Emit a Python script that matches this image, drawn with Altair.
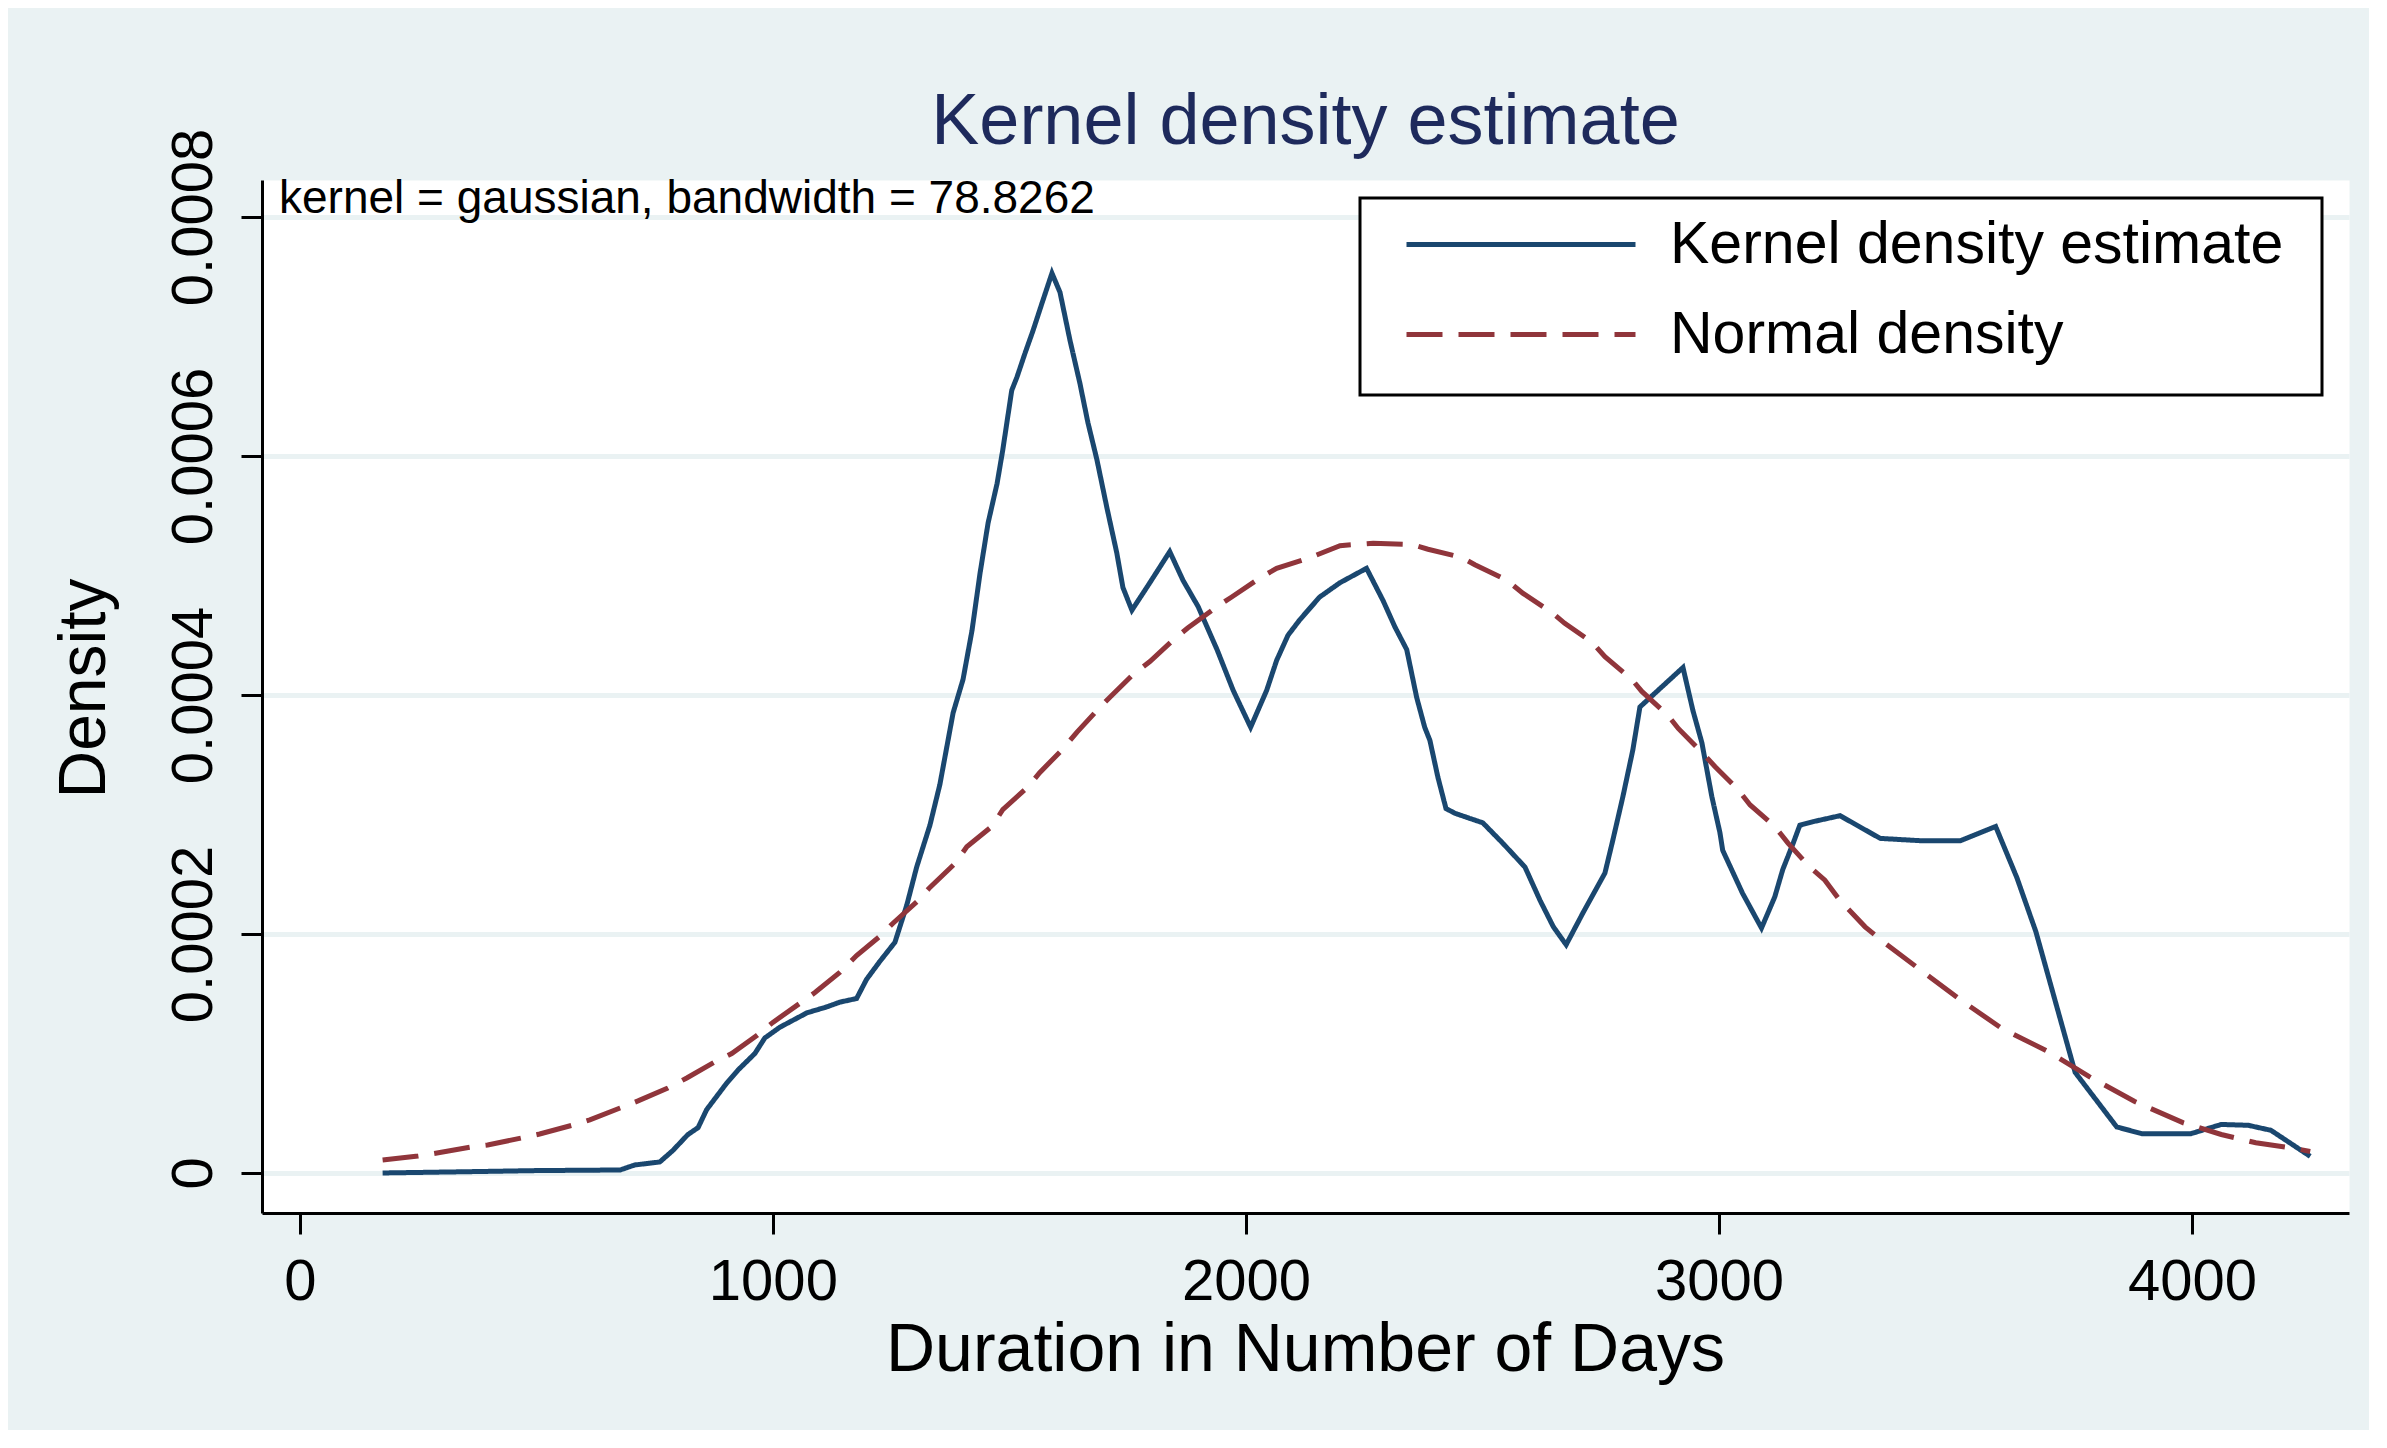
import altair as alt
import pandas as pd

# ---- data ----
kde_x = [175, 345, 500, 677, 708, 761, 789, 820, 842, 860, 902, 926, 962, 983, 1015,
         1072, 1114, 1142, 1177, 1198, 1226, 1258, 1283, 1304, 1332, 1353, 1381, 1402,
         1421, 1438, 1455, 1474, 1486, 1505, 1516, 1533, 1550, 1569, 1590, 1607, 1628,
         1649, 1666, 1685, 1706, 1727, 1740, 1759, 1797, 1839, 1867, 1899, 1939, 1973,
         2010, 2044, 2065, 2089, 2114, 2156, 2199, 2255, 2290, 2315, 2340, 2361, 2378,
         2389, 2406, 2423, 2442, 2501, 2543, 2590, 2622, 2650, 2677, 2713, 2759, 2776,
         2797, 2818, 2833, 2924, 2945, 2964, 2985, 3002, 3008, 3050, 3090, 3118, 3135,
         3157, 3171, 3199, 3256, 3341, 3429, 3510, 3585, 3630, 3670, 3753, 3841, 3894,
         3998, 4062, 4119, 4167, 4250]
kde_y = [0.0, 0.000001, 0.000002, 0.0000025, 0.0000067, 0.0000092, 0.000019, 0.000032,
         0.000038, 0.000053, 0.000075, 0.000086, 0.000100, 0.000113, 0.000122, 0.000134,
         0.000139, 0.000143, 0.000146, 0.000162, 0.000177, 0.000193, 0.000224, 0.000256,
         0.000291, 0.000325, 0.000385, 0.000413, 0.000454, 0.000502, 0.000544, 0.000577,
         0.000605, 0.000655, 0.000666, 0.000686, 0.000705, 0.000728, 0.000753, 0.000737,
         0.000697, 0.000661, 0.000628, 0.000597, 0.000557, 0.000519, 0.000490, 0.000471,
         0.000494, 0.000520, 0.000496, 0.000474, 0.000438, 0.000404, 0.000373, 0.000404,
         0.000429, 0.000450, 0.000463, 0.000482, 0.000494, 0.000506, 0.000479, 0.000457,
         0.000438, 0.000398, 0.000373, 0.000362, 0.000331, 0.000305, 0.000301, 0.000293,
         0.000276, 0.000256, 0.000228, 0.000206, 0.000191, 0.000218, 0.000251, 0.000279,
         0.000315, 0.000354, 0.000390, 0.000423, 0.000387, 0.000360, 0.000315, 0.000285,
         0.000270, 0.000234, 0.000205, 0.000231, 0.000254, 0.000276, 0.000291, 0.000294,
         0.000299, 0.000280, 0.000278, 0.000278, 0.000290, 0.000247, 0.000202, 0.0000842,
         0.0000385, 0.0000329, 0.0000329, 0.0000406, 0.0000399, 0.0000357, 0.0000139]

norm_x = [175, 250, 290, 363, 397, 469, 507, 578, 613, 677, 715, 778, 818, 877, 913, 966,
          1000, 1057, 1089, 1142, 1177, 1226, 1254, 1307, 1332, 1385, 1410, 1463, 1486,
          1539, 1564, 1611, 1643, 1685, 1712, 1761, 1797, 1846, 1877, 1939, 1970, 2030,
          2065, 2129, 2199, 2269, 2351, 2385, 2457, 2484, 2552, 2586, 2647, 2674, 2732,
          2759, 2816, 2837, 2892, 2914, 2964, 2992, 3040, 3066, 3118, 3146, 3192, 3224,
          3256, 3309, 3349, 3429, 3510, 3598, 3694, 3782, 3878, 3982, 4062, 4135, 4223, 4250]
norm_y = [0.0000109, 0.0000142, 0.0000167, 0.0000218, 0.0000234, 0.0000293, 0.0000326,
          0.0000402, 0.0000445, 0.0000544, 0.0000603, 0.0000711, 0.0000795, 0.0000929,
          0.000100, 0.000115, 0.000126, 0.000142, 0.000151, 0.000168, 0.000182, 0.000198,
          0.000209, 0.000228, 0.000239, 0.000259, 0.000273, 0.000290, 0.000304, 0.000323,
          0.000335, 0.000354, 0.000369, 0.000387, 0.000398, 0.000417, 0.000428, 0.000446,
          0.000456, 0.000474, 0.000482, 0.000498, 0.000506, 0.000514, 0.000525, 0.000527,
          0.000526, 0.000522, 0.000515, 0.000509, 0.000496, 0.000485, 0.000469, 0.000460,
          0.000444, 0.000432, 0.000413, 0.000403, 0.000383, 0.000372, 0.000352, 0.000340,
          0.000321, 0.000308, 0.000290, 0.000276, 0.000256, 0.000245, 0.000228, 0.000206,
          0.000193, 0.000169, 0.000145, 0.000121, 0.000102, 0.0000808, 0.0000600,
          0.0000419, 0.0000322, 0.0000253, 0.0000201, 0.000018]

series_names = ["Kernel density estimate", "Normal density"]
x_ticks = [0, 1000, 2000, 3000, 4000]
y_ticks = [0, 0.0002, 0.0004, 0.0006, 0.0008]

title_text = "Kernel density estimate"
note_text = "kernel = gaussian, bandwidth = 78.8262"
x_title = "Duration in Number of Days"
y_title = "Density"

FONT = "Liberation Sans"

rows = []
for i, (xv, yv) in enumerate(zip(kde_x, kde_y)):
    rows.append({"x": xv, "y": yv, "series": series_names[0], "i": i})
for i, (xv, yv) in enumerate(zip(norm_x, norm_y)):
    rows.append({"x": xv, "y": yv, "series": series_names[1], "i": i})
df = pd.DataFrame(rows)

legend = alt.Legend(
    title=None, orient="none", legendX=1142, legendY=35, direction="vertical",
    symbolType="stroke", symbolSize=52441, symbolStrokeWidth=5,
    labelFont=FONT, labelFontSize=59, labelColor="black", labelOffset=32,
    rowPadding=30, padding=0, clipHeight=59, labelLimit=1200,
)

x_enc = alt.X("x:Q", scale=alt.Scale(domain=[-80, 4332], nice=False, zero=False),
              axis=alt.Axis(values=x_ticks, format="d", title=x_title, grid=False,
                            labelFont=FONT, labelFontSize=58, labelColor="black",
                            labelPadding=19, tickSize=21, tickWidth=3, tickColor="black",
                            domainColor="black", domainWidth=3,
                            titleFont=FONT, titleFontSize=68, titleFontWeight="normal",
                            titleColor="black", titleBaseline="alphabetic",
                            titleX=1043, titleY=157, titleAlign="center"))
y_enc = alt.Y("y:Q", scale=alt.Scale(domain=[-0.0000335, 0.000831], nice=False, zero=False),
              axis=alt.Axis(values=y_ticks, format=".4~f", title=y_title, grid=True,
                            gridColor="#EAF2F3", gridWidth=5,
                            labelFont=FONT, labelFontSize=58, labelColor="black",
                            labelAngle=270, labelAlign="center", labelBaseline="alphabetic",
                            labelPadding=30, tickSize=21, tickWidth=3, tickColor="black",
                            domainColor="black", domainWidth=3,
                            titleFont=FONT, titleFontSize=66, titleFontWeight="normal",
                            titleColor="black", titleAngle=270, titleBaseline="alphabetic",
                            titleAlign="center", titleX=-158, titleY=508))

lines = alt.Chart(df).mark_line(strokeWidth=5).encode(
    x=x_enc,
    y=y_enc,
    color=alt.Color("series:N", scale=alt.Scale(domain=series_names,
                                                range=["#1A476F", "#90353B"]),
                    legend=legend),
    strokeDash=alt.StrokeDash("series:N", scale=alt.Scale(domain=series_names,
                                                          range=[[1, 0], [36, 16]]),
                              legend=legend),
    order="i:Q",
)

box = alt.Chart(pd.DataFrame({"a": [0]})).mark_rect(
    fill="white", stroke="black", strokeWidth=3
).encode(x=alt.value(1098), x2=alt.value(2060), y=alt.value(18), y2=alt.value(215))

note = alt.Chart(pd.DataFrame({"t": [note_text]})).mark_text(
    align="left", baseline="alphabetic", font=FONT, fontSize=46, color="black"
).encode(text="t:N", x=alt.value(17), y=alt.value(33))

chart = alt.layer(lines, box, note).properties(
    width=2087, height=1033,
    background="#EAF2F3",
    padding={"left": 254, "top": 172, "right": 20, "bottom": 217},
    autosize=alt.AutoSizeParams(type="none"),
    title=alt.TitleParams(text=title_text, font=FONT, fontSize=72, fontWeight="normal",
                          color="#1E2A5C", anchor="middle", frame="group",
                          baseline="alphabetic", offset=-88),
).configure_view(fill="white", stroke="transparent")

chart.save("out.html", embed_options={"renderer": "svg", "actions": False})
